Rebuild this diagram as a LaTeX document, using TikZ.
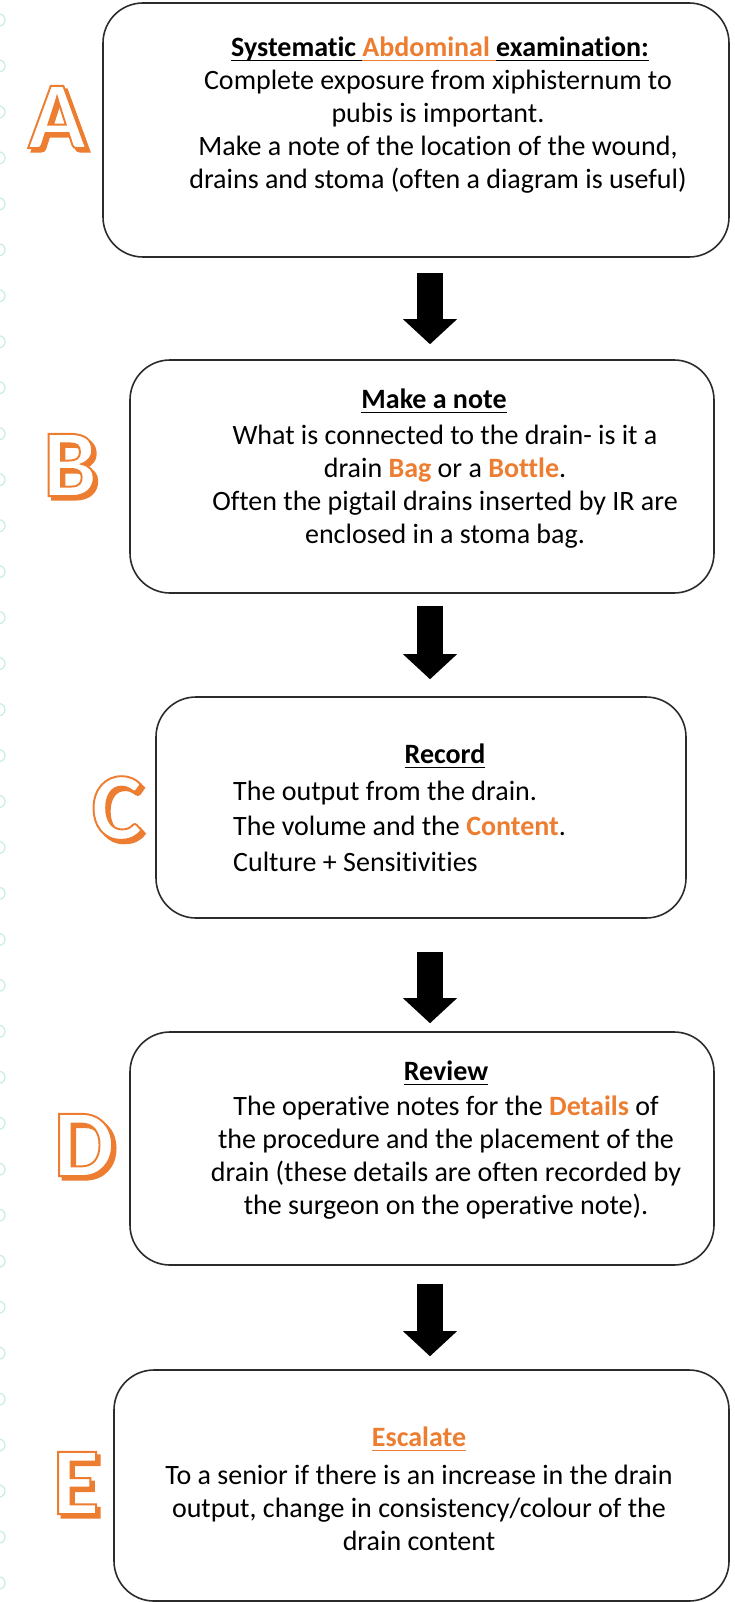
\documentclass[tikz,border=0pt]{standalone}
\usepackage{fontspec}
\setmainfont[Ligatures=NoCommon]{Carlito}
\newfontfamily\letterfont[FakeBold=2]{Carlito Bold}
\usetikzlibrary{arrows.meta}

\definecolor{accent}{HTML}{ED7D31}
\definecolor{ringcol}{HTML}{C8ECE5}
\definecolor{edgecol}{HTML}{2B2B2B}

\newcommand{\hl}[1]{\textcolor{accent}{\textbf{#1}}}
% underline at a fixed depth below the baseline
\newcommand{\uln}[1]{\setbox0\hbox{#1}\rlap{\vrule height -3pt depth 4.5pt width \wd0}\box0}
\newcommand{\steptitle}[1]{\textbf{\uln{#1}}}
% orange stroke for the outlined letters
\newcommand{\accentstroke}{\special{pdf:code 0.929 0.490 0.192 RG}}

\tikzset{
  stepbox/.style={draw=edgecol, line width=1.6pt, rounded corners=40pt, inner sep=0pt},
  titletext/.style={font=\fontsize{28}{33}\selectfont, inner sep=0pt},
  bodytext/.style={font=\fontsize{28}{33}\selectfont, align=center, inner sep=0pt},
  letterbase/.style={font=\letterfont\fontsize{96}{96}\selectfont, inner sep=0pt},
  bigarrow/.style={line width=26pt, -{Triangle[width=54pt, length=25pt, line width=0pt]}}
}

\begin{document}
\begin{tikzpicture}[x=1pt, y=-1pt]
\useasboundingbox (0,0) rectangle (735,1602);

% rings along the left margin
\foreach \k in {0,...,34}
  \draw[ringcol, line width=1.2pt] (-1,20+45.97*\k) circle (6);

% the five boxes
\node[stepbox, minimum width=626pt, minimum height=254pt] (boxA) at (416,130) {};
\node[stepbox, minimum width=584pt, minimum height=233pt] (boxB) at (422,476.5) {};
\node[stepbox, minimum width=530pt, minimum height=221pt] (boxC) at (421,807.5) {};
\node[stepbox, minimum width=584pt, minimum height=233pt] (boxD) at (422,1148.5) {};
\node[stepbox, minimum width=615pt, minimum height=231pt] (boxE) at (421.5,1485.5) {};

% texts
\node[titletext] (tA) at (440,49) {\steptitle{Systematic \textcolor{accent}{\uln{Abdominal }}examination:}};
\node[bodytext] (bA) at (438,132) {Complete exposure from xiphisternum to\\
  pubis is important.\\
  Make a note of the location of the wound,\\
  drains and stoma (often a diagram is useful)};

\node[titletext] (tB) at (434,401) {\steptitle{Make a note}};
\node[bodytext] (bB) at (445,487) {What is connected to the drain- is it a\\
  drain \hl{Bag} or a \hl{Bottle}.\\
  Often the pigtail drains inserted by IR are\\
  enclosed in a stoma bag.};

\node[titletext] (tC) at (445,756) {\steptitle{Record}};
\node[bodytext, align=left, anchor=west, font=\fontsize{28}{35.5}\selectfont] (bC) at (233,826) {The output from the drain.\\
  The volume and the \hl{Content}.\\
  Culture + Sensitivities};

\node[titletext] (tD) at (446,1073) {\steptitle{Review}};
\node[bodytext] (bD) at (446,1158) {The operative notes for the \hl{Details} of\\
  the procedure and the placement of the\\
  drain (these details are often recorded by\\
  the surgeon on the operative note).};

\node[titletext] (tE) at (419,1439) {\textcolor{accent}{\steptitle{Escalate}}};
\node[bodytext] (bE) at (419,1508) {To a senior if there is an increase in the drain\\
  output, change in consistency/colour of the\\
  drain content};

% step letters: orange shadow, then white face with orange outline
\foreach \l/\x/\y in {A/57/117, B/70/465, C/117/808, D/84/1145, E/76/1483} {
  \node[letterbase, text=accent] (s\l) at (\x+3.5,\y+3.5) {\l};
  \node[letterbase, text=white] (l\l) at (\x,\y) {\accentstroke\l};
}

% arrows between the steps
\coordinate (ax) at (430,0);
\draw[bigarrow, shorten <=15pt, shorten >=15pt] (boxA.south -| ax) -- (boxB.north -| ax);
\draw[bigarrow, shorten <=12pt, shorten >=17pt] (boxB.south -| ax) -- (boxC.north -| ax);
\draw[bigarrow, shorten <=33pt, shorten >=8pt] (boxC.south -| ax) -- (boxD.north -| ax);
\draw[bigarrow, shorten <=18pt, shorten >=13pt] (boxD.south -| ax) -- (boxE.north -| ax);
\end{tikzpicture}
\end{document}
